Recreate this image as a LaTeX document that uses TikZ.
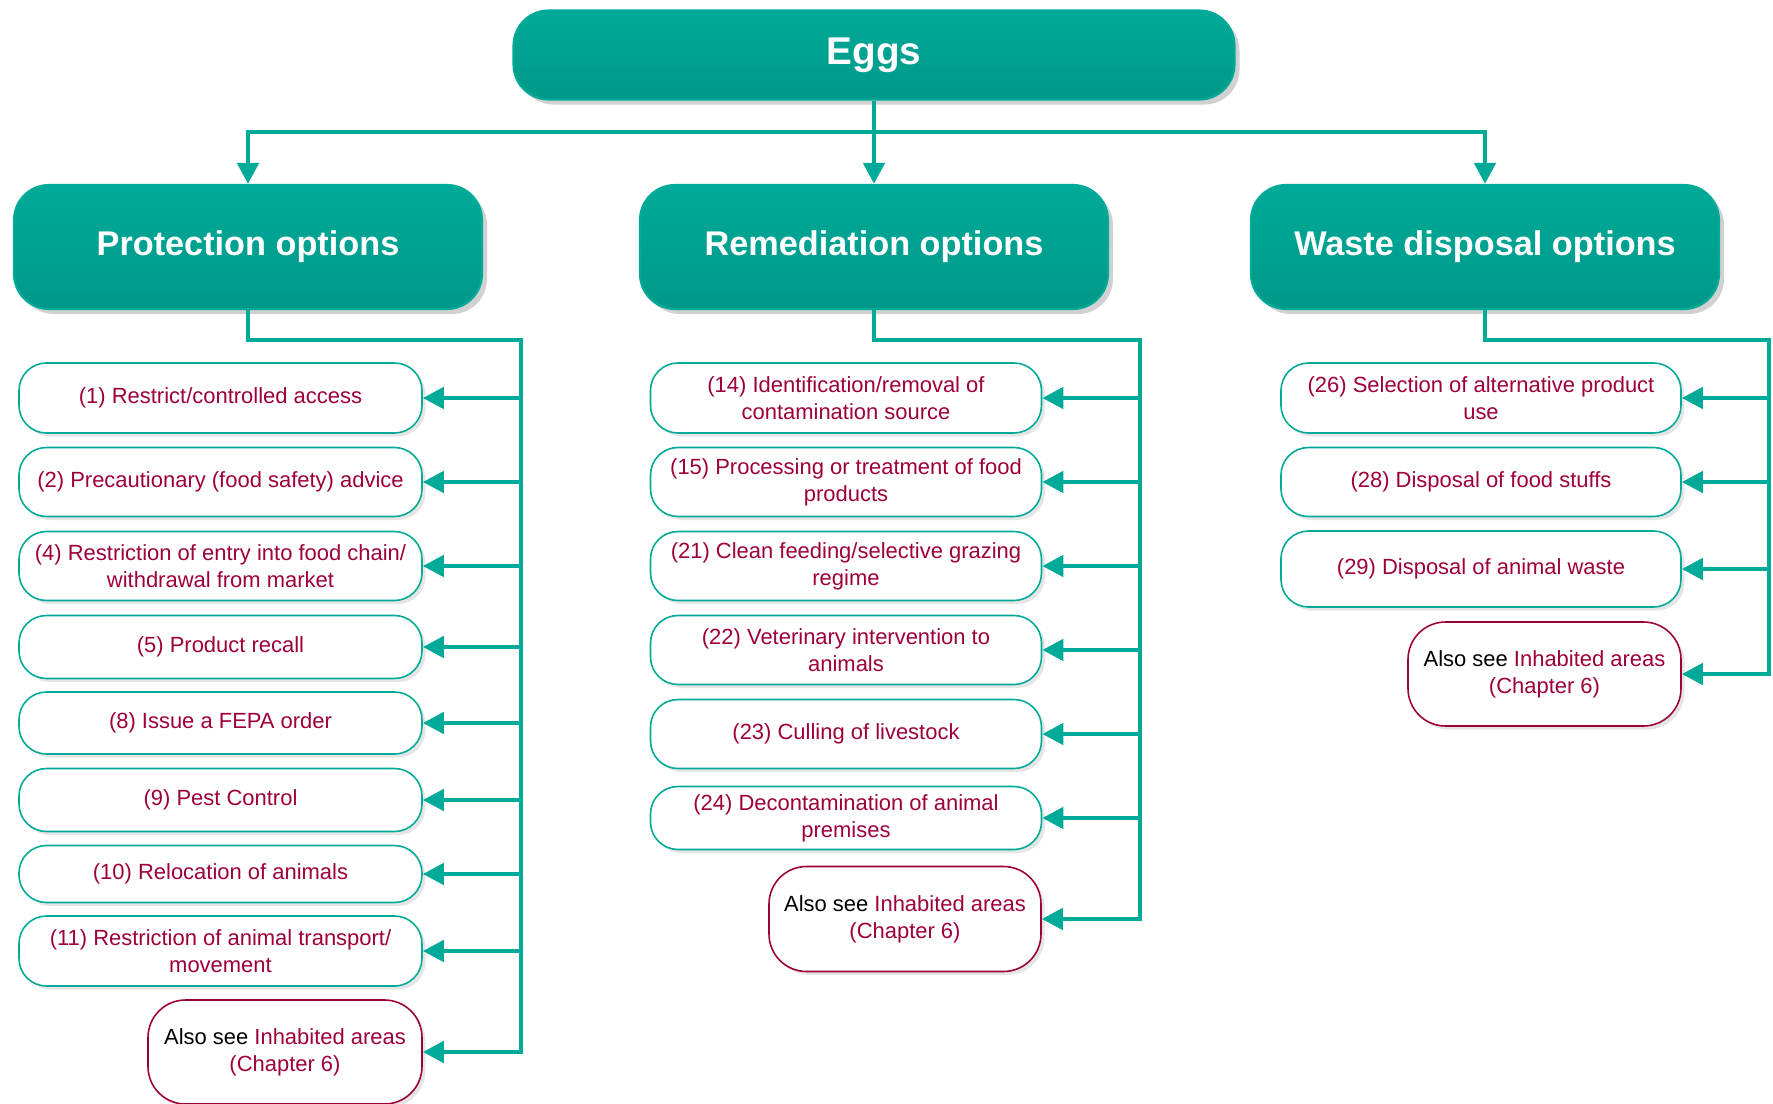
\documentclass[tikz,border=0pt]{standalone}
\usepackage{fontspec}
\setmainfont{Liberation Sans}
\usetikzlibrary{arrows.meta,shadows}
\definecolor{eggteal}{RGB}{0,170,152}
\definecolor{eggtealdark}{RGB}{0,152,137}
\definecolor{eggred}{RGB}{158,0,58}

\begin{document}
\begin{tikzpicture}[
  head/.style={rounded corners=.7cm, top color=eggteal, bottom color=eggtealdark, draw=eggteal, line width=1.2pt,
    text=white, font=\fontsize{19.5}{23}\selectfont\bfseries, minimum width=9.36cm, minimum height=2.48cm,
    drop shadow={fill=black!18, opacity=1, shadow xshift=.1cm, shadow yshift=-.1cm}},
  opt/.style={rounded corners=.55cm, draw=eggteal, line width=.9pt, fill=white, text=eggred, align=center,
    font=\fontsize{12.5}{15.3}\selectfont, inner sep=0pt,
    drop shadow={fill=black!10, opacity=1, shadow xshift=.07cm, shadow yshift=-.07cm}},
  popt/.style={opt, minimum width=8.06cm},
  ropt/.style={opt, minimum width=7.82cm},
  wopt/.style={opt, minimum width=8.00cm},
  see/.style={opt, draw=eggred, rounded corners=.75cm, minimum height=2.08cm},
  bus/.style={draw=eggteal, line width=2.6pt, line cap=rect},
  arr/.style={draw=eggteal, line width=2.6pt, -{Triangle[length=.42cm,width=.42cm]}}
]
\useasboundingbox (0,0) rectangle (35.46,-22.08);

% top row
\node[head, font=\fontsize{22}{26}\selectfont\bfseries, minimum width=14.42cm, minimum height=1.78cm] (eggs) at (17.48,-1.10) {Eggs};
\node[head] (prot)  at (4.96,-4.94)  {Protection options};
\node[head] (rem)   at (17.48,-4.94) {Remediation options};
\node[head] (waste) at (29.70,-4.94) {Waste disposal options};

\coordinate (top) at (17.48,-2.64);
\draw[bus] (prot.north |- top) -- (waste.north |- top);
\draw[arr] (eggs.south) -- (rem.north);
\draw[arr] (prot.north |- top) -- (prot.north);
\draw[arr] (waste.north |- top) -- (waste.north);

% protection
\node[popt, minimum height=1.40cm] (p1) at (4.41,-7.96)  {(1) Restrict/controlled access};
\node[popt, minimum height=1.38cm] (p2) at (4.41,-9.64)  {(2) Precautionary (food safety) advice};
\node[popt, minimum height=1.38cm] (p4) at (4.41,-11.32) {(4) Restriction of entry into food chain/\\withdrawal from market};
\node[popt, minimum height=1.26cm] (p5) at (4.41,-12.94) {(5) Product recall};
\node[popt, minimum height=1.24cm] (p8) at (4.41,-14.46) {(8) Issue a FEPA order};
\node[popt, minimum height=1.26cm] (p9) at (4.41,-16.00) {(9) Pest Control};
\node[popt, minimum height=1.14cm] (p10) at (4.41,-17.48) {(10) Relocation of animals};
\node[popt, minimum height=1.40cm] (p11) at (4.41,-19.02) {(11) Restriction of animal transport/\\movement};
\node[see, minimum width=5.48cm] (pse) at (5.70,-21.04) {{\color{black}Also see} Inhabited areas\\(Chapter 6)};

\coordinate (pb) at (10.42,-6.80);
\draw[bus] (prot.south) |- (pb) -- (pb |- pse.east);
\draw[arr] (pb |- p1.east) -- (p1.east);
\draw[arr] (pb |- p2.east) -- (p2.east);
\draw[arr] (pb |- p4.east) -- (p4.east);
\draw[arr] (pb |- p5.east) -- (p5.east);
\draw[arr] (pb |- p8.east) -- (p8.east);
\draw[arr] (pb |- p9.east) -- (p9.east);
\draw[arr] (pb |- p10.east) -- (p10.east);
\draw[arr] (pb |- p11.east) -- (p11.east);
\draw[arr] (pb |- pse.east) -- (pse.east);

% remediation
\node[ropt, minimum height=1.40cm] (r14) at (16.92,-7.96)  {(14) Identification/removal of\\contamination source};
\node[ropt, minimum height=1.38cm] (r15) at (16.92,-9.64)  {(15) Processing or treatment of food\\products};
\node[ropt, minimum height=1.38cm] (r21) at (16.92,-11.32) {(21) Clean feeding/selective grazing\\regime};
\node[ropt, minimum height=1.38cm] (r22) at (16.92,-13.00) {(22) Veterinary intervention to\\animals};
\node[ropt, minimum height=1.38cm] (r23) at (16.92,-14.68) {(23) Culling of livestock};
\node[ropt, minimum height=1.26cm] (r24) at (16.92,-16.36) {(24) Decontamination of animal\\premises};
\node[see, minimum width=5.44cm, minimum height=2.10cm] (rse) at (18.10,-18.38) {{\color{black}Also see} Inhabited areas\\(Chapter 6)};

\coordinate (rb) at (22.80,-6.80);
\draw[bus] (rem.south) |- (rb) -- (rb |- rse.east);
\draw[arr] (rb |- r14.east) -- (r14.east);
\draw[arr] (rb |- r15.east) -- (r15.east);
\draw[arr] (rb |- r21.east) -- (r21.east);
\draw[arr] (rb |- r22.east) -- (r22.east);
\draw[arr] (rb |- r23.east) -- (r23.east);
\draw[arr] (rb |- r24.east) -- (r24.east);
\draw[arr] (rb |- rse.east) -- (rse.east);

% waste disposal
\node[wopt, minimum height=1.40cm] (w26) at (29.62,-7.96)  {(26) Selection of alternative product\\use};
\node[wopt, minimum height=1.38cm] (w28) at (29.62,-9.64)  {(28) Disposal of food stuffs};
\node[wopt, minimum height=1.52cm] (w29) at (29.62,-11.38) {(29) Disposal of animal waste};
\node[see, minimum width=5.46cm] (wse) at (30.89,-13.48) {{\color{black}Also see} Inhabited areas\\(Chapter 6)};

\coordinate (wb) at (35.38,-6.80);
\draw[bus] (waste.south) |- (wb) -- (wb |- wse.east);
\draw[arr] (wb |- w26.east) -- (w26.east);
\draw[arr] (wb |- w28.east) -- (w28.east);
\draw[arr] (wb |- w29.east) -- (w29.east);
\draw[arr] (wb |- wse.east) -- (wse.east);
\end{tikzpicture}
\end{document}
